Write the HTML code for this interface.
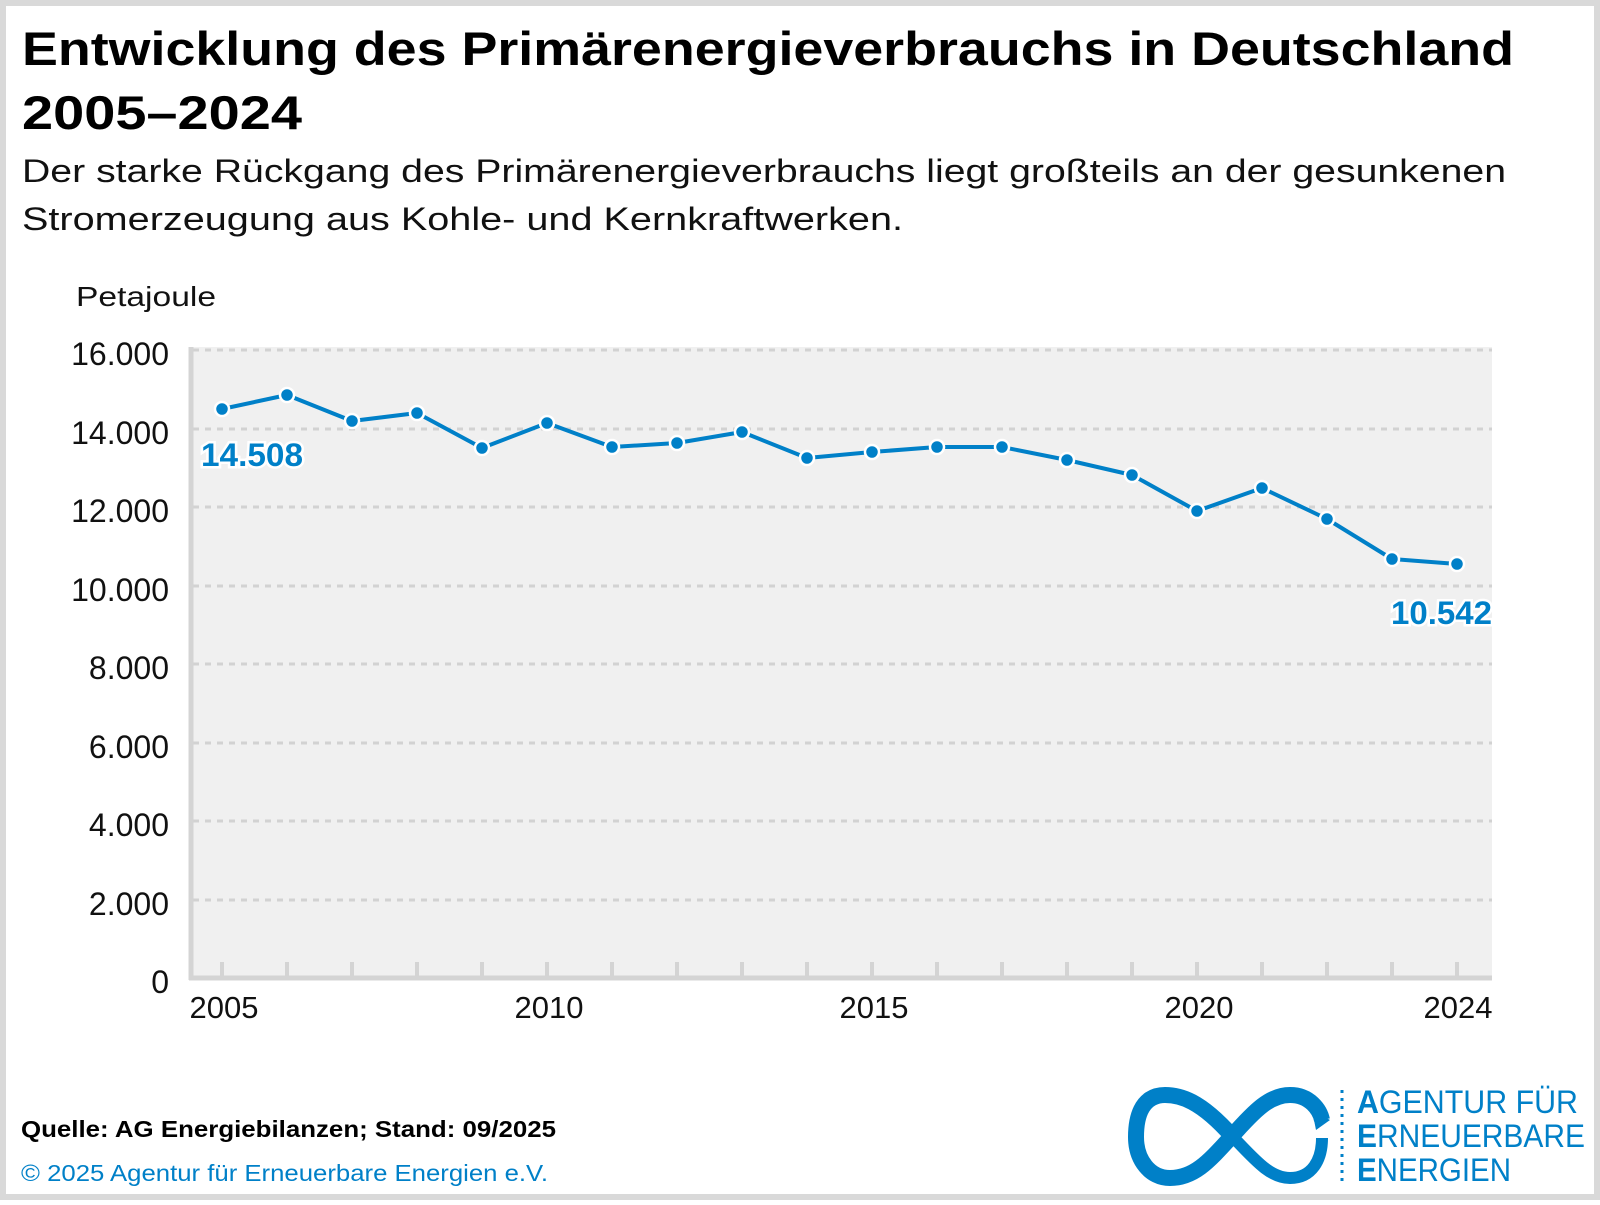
<!DOCTYPE html>
<html><head><meta charset="utf-8"><style>
html,body{margin:0;padding:0;background:#fff;}
</style></head><body>
<svg width="1600" height="1200" xmlns="http://www.w3.org/2000/svg" font-family="'Liberation Sans', sans-serif">
<rect x="3" y="3" width="1594" height="1194" fill="#fff" stroke="#d9d9d9" stroke-width="6"/>
<text x="22" y="65" font-size="47" font-weight="bold" fill="#000" textLength="1492" lengthAdjust="spacingAndGlyphs">Entwicklung des Primärenergieverbrauchs in Deutschland</text>
<text x="22" y="129" font-size="47" font-weight="bold" fill="#000" textLength="280" lengthAdjust="spacingAndGlyphs">2005–2024</text>
<text x="22" y="182" font-size="32" fill="#111" textLength="1484" lengthAdjust="spacingAndGlyphs">Der starke Rückgang des Primärenergieverbrauchs liegt großteils an der gesunkenen</text>
<text x="22" y="230" font-size="32" fill="#111" textLength="881" lengthAdjust="spacingAndGlyphs">Stromerzeugung aus Kohle- und Kernkraftwerken.</text>
<text x="76" y="306" font-size="28" fill="#111" textLength="140" lengthAdjust="spacingAndGlyphs">Petajoule</text>
<rect x="189" y="347" width="1303" height="631" fill="#f0f0f0"/>
<g stroke="#d2d2d2" stroke-width="3" stroke-dasharray="6,6">
<line x1="193" x2="1492" y1="350" y2="350"/><line x1="193" x2="1492" y1="429" y2="429"/>
<line x1="193" x2="1492" y1="507" y2="507"/><line x1="193" x2="1492" y1="586" y2="586"/>
<line x1="193" x2="1492" y1="664" y2="664"/><line x1="193" x2="1492" y1="743" y2="743"/>
<line x1="193" x2="1492" y1="821" y2="821"/><line x1="193" x2="1492" y1="900" y2="900"/>
</g>
<g stroke="#d4d4d4">
<line x1="191" x2="191" y1="347" y2="980" stroke-width="5"/>
<line x1="189" x2="1492" y1="978" y2="978" stroke-width="5"/>
<path d="M222 978V962M287 978V962M352 978V962M417 978V962M482 978V962M547 978V962M612 978V962M677 978V962M742 978V962M807 978V962M872 978V962M937 978V962M1002 978V962M1067 978V962M1132 978V962M1197 978V962M1262 978V962M1327 978V962M1392 978V962M1457 978V962" stroke-width="4"/>
</g>
<g font-size="32" fill="#111" text-anchor="end">
<text x="169" y="365">16.000</text><text x="169" y="444">14.000</text><text x="169" y="522">12.000</text>
<text x="169" y="601">10.000</text><text x="169" y="679">8.000</text><text x="169" y="758">6.000</text>
<text x="169" y="836">4.000</text><text x="169" y="915">2.000</text><text x="169" y="993">0</text>
</g>
<g font-size="31" fill="#111" text-anchor="middle">
<text x="224" y="1018">2005</text><text x="549" y="1018">2010</text><text x="874" y="1018">2015</text>
<text x="1199" y="1018">2020</text><text x="1458" y="1018">2024</text>
</g>
<polyline fill="none" stroke="#0080c8" stroke-width="4" stroke-linejoin="round" points="222,409 287,395 352,421 417,413 482,448 547,423 612,447 677,443 742,432 807,458 872,452 937,447 1002,447 1067,460 1132,475 1197,511 1262,488 1327,519 1392,559 1457,564"/>
<g fill="#0080c8" stroke="#fff" stroke-width="2.5">
<circle cx="222" cy="409" r="7"/><circle cx="287" cy="395" r="7"/><circle cx="352" cy="421" r="7"/><circle cx="417" cy="413" r="7"/><circle cx="482" cy="448" r="7"/><circle cx="547" cy="423" r="7"/><circle cx="612" cy="447" r="7"/><circle cx="677" cy="443" r="7"/><circle cx="742" cy="432" r="7"/><circle cx="807" cy="458" r="7"/><circle cx="872" cy="452" r="7"/><circle cx="937" cy="447" r="7"/><circle cx="1002" cy="447" r="7"/><circle cx="1067" cy="460" r="7"/><circle cx="1132" cy="475" r="7"/><circle cx="1197" cy="511" r="7"/><circle cx="1262" cy="488" r="7"/><circle cx="1327" cy="519" r="7"/><circle cx="1392" cy="559" r="7"/><circle cx="1457" cy="564" r="7"/>
</g>
<g font-size="32" font-weight="bold" fill="#0080c8" stroke="#fff" stroke-width="5" paint-order="stroke">
<text x="201" y="466" textLength="102" lengthAdjust="spacingAndGlyphs">14.508</text>
<text x="1391" y="624" textLength="101" lengthAdjust="spacingAndGlyphs">10.542</text>
</g>
<text x="21" y="1137" font-size="23" font-weight="bold" fill="#000" textLength="535" lengthAdjust="spacingAndGlyphs">Quelle: AG Energiebilanzen;  Stand: 09/2025</text>
<text x="21" y="1181" font-size="23" fill="#0080c8" textLength="527" lengthAdjust="spacingAndGlyphs">© 2025 Agentur für Erneuerbare Energien e.V.</text>
<g fill="none" stroke="#0080c8" stroke-width="16">
<path d="M1232 1136 C1200 1100 1180 1095 1165 1095 C1140 1095 1136 1120 1136 1137 C1136 1160 1150 1178 1170 1178 C1195 1178 1210 1160 1232 1136 C1255 1110 1270 1095 1290 1095 C1310 1095 1320 1110 1322 1120"/>
<path d="M1232 1136 C1255 1160 1270 1178 1290 1178 C1312 1178 1322 1160 1322 1138" stroke-width="12"/>
</g>
<polygon points="1312,1110 1330,1120 1316,1130" fill="#0080c8"/>
<line x1="1342" y1="1090" x2="1342" y2="1184" stroke="#0080c8" stroke-width="3" stroke-dasharray="3,5"/>
<g font-size="32" fill="#0080c8">
<text x="1357" y="1113" textLength="221" lengthAdjust="spacingAndGlyphs"><tspan font-weight="bold">A</tspan>GENTUR FÜR</text>
<text x="1357" y="1147" textLength="228" lengthAdjust="spacingAndGlyphs"><tspan font-weight="bold">E</tspan>RNEUERBARE</text>
<text x="1357" y="1181" textLength="154" lengthAdjust="spacingAndGlyphs"><tspan font-weight="bold">E</tspan>NERGIEN</text>
</g>
</svg>
</body></html>
